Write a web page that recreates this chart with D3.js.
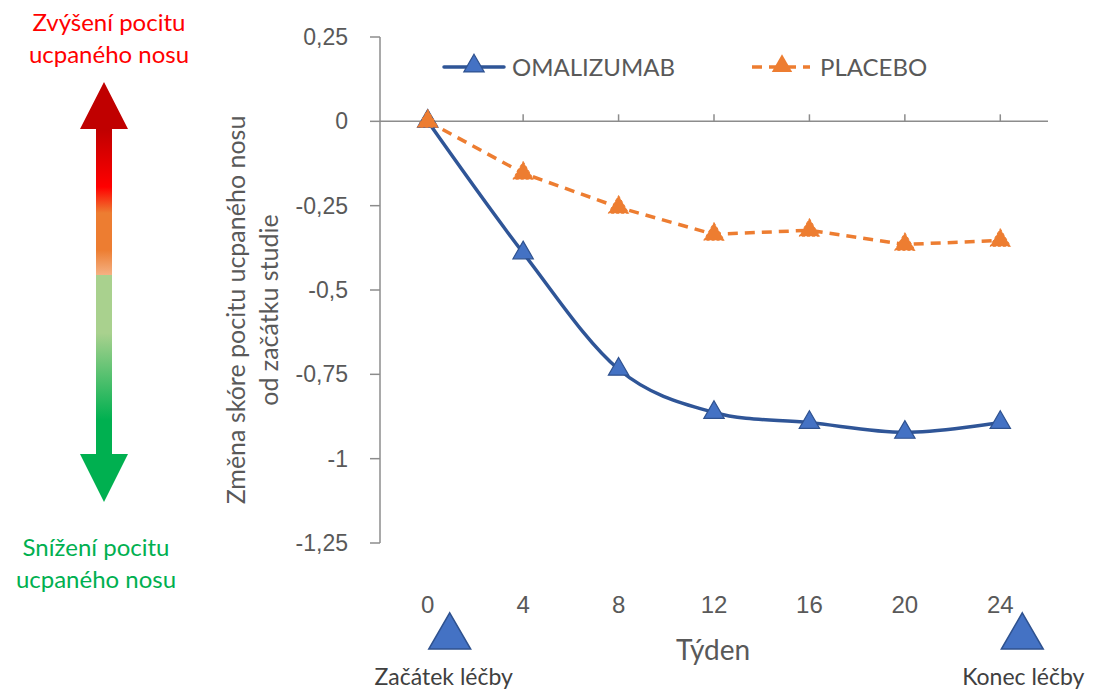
<!DOCTYPE html>
<html lang="cs">
<head>
  <meta charset="UTF-8">
  <script src="https://d3js.org/d3.v7.min.js"></script>
  <title>Změna skóre pocitu ucpaného nosu</title>
  <style>
    body { margin: 0; background: #fff; }
    svg { display: block; }
    .tick-y { font-family: "Liberation Sans", Arial, sans-serif; font-size: 23px; fill: #595959; }
    .tick-x { font-family: "Liberation Sans", Arial, sans-serif; font-size: 24px; fill: #595959; }
    .calib { font-family: Lato, "Noto Sans", sans-serif; }
  </style>
</head>
<body>
<svg id="chart" width="1094" height="689"></svg>
<script>
  const weeks = [0, 4, 8, 12, 16, 20, 24];
  const omalizumab = [0, -0.39, -0.735, -0.863, -0.893, -0.922, -0.893];
  const placebo = [0, -0.154, -0.255, -0.335, -0.323, -0.365, -0.353];
  const yTicks = [0.25, 0, -0.25, -0.5, -0.75, -1, -1.25];

  const svg = d3.select("#chart");
  const plotL = 380, plotR = 1048, plotT = 37, plotB = 543;

  const x = d3.scaleBand().domain(weeks).range([plotL, plotR]);
  const y = d3.scaleLinear().domain([-1.25, 0.25]).range([plotB, plotT]);
  const cx = d => x(d) + x.bandwidth() / 2;
  const axisCol = "#8c8c8c";

  // y axis
  svg.append("line").attr("x1", plotL).attr("x2", plotL).attr("y1", y(0.25)).attr("y2", y(-1.25))
    .attr("stroke", axisCol).attr("stroke-width", 1.5);
  yTicks.forEach(t => {
    svg.append("line").attr("x1", plotL - 10).attr("x2", plotL).attr("y1", y(t)).attr("y2", y(t))
      .attr("stroke", axisCol).attr("stroke-width", 1.5);
    svg.append("text").attr("class", "tick-y").attr("x", 348).attr("y", y(t) + 8)
      .attr("text-anchor", "end").text(String(t).replace(".", ","));
  });

  // x axis at zero
  svg.append("line").attr("x1", plotL).attr("x2", plotR).attr("y1", y(0)).attr("y2", y(0))
    .attr("stroke", axisCol).attr("stroke-width", 1.5);
  weeks.forEach(w => {
    svg.append("line").attr("x1", cx(w)).attr("x2", cx(w)).attr("y1", y(0) - 7).attr("y2", y(0))
      .attr("stroke", axisCol).attr("stroke-width", 1.5);
    svg.append("text").attr("class", "tick-x").attr("x", cx(w)).attr("y", 613)
      .attr("text-anchor", "middle").text(w);
  });

  svg.append("text").attr("class", "calib").attr("x", 713).attr("y", 660)
    .attr("text-anchor", "middle").attr("font-size", 28).attr("fill", "#595959").text("Týden");

  // y title
  const yt = svg.append("text").attr("class", "calib").attr("font-size", 25).attr("fill", "#595959")
    .attr("text-anchor", "middle").attr("transform", "translate(0,310) rotate(-90)");
  yt.append("tspan").attr("x", 0).attr("y", 245).text("Změna skóre pocitu ucpaného nosu");
  yt.append("tspan").attr("x", 0).attr("y", 278).text("od začátku studie");

  const tri = d3.symbol().type(d3.symbolTriangle);

  // placebo
  svg.append("path").datum(placebo)
    .attr("d", d3.line().x((d, i) => cx(weeks[i])).y(d => y(d)))
    .attr("fill", "none").attr("stroke", "#ED7D31").attr("stroke-width", 3.5)
    .attr("stroke-dasharray", "10,7");
  svg.selectAll(".pm").data(placebo).join("path")
    .attr("transform", (d, i) => `translate(${cx(weeks[i])},${y(d)})`)
    .attr("d", tri.size(180)).attr("fill", "#ED7D31").attr("stroke", "#ED7D31").attr("stroke-width", 1)
    .attr("stroke-dasharray", "3,2");

  // omalizumab
  svg.append("path").datum(omalizumab)
    .attr("d", d3.line().x((d, i) => cx(weeks[i])).y(d => y(d)).curve(d3.curveCatmullRom.alpha(0)))
    .attr("fill", "none").attr("stroke", "#2F5597").attr("stroke-width", 3.5);
  svg.selectAll(".om").data(omalizumab).join("path")
    .attr("transform", (d, i) => `translate(${cx(weeks[i])},${y(d)})`)
    .attr("d", tri.size(180)).attr("fill", "#4472C4").attr("stroke", "#2F528F").attr("stroke-width", 1.2);
  // placebo marker at week 0 drawn on top
  svg.append("path").attr("transform", `translate(${cx(0)},${y(placebo[0])})`)
    .attr("d", tri.size(180)).attr("fill", "#ED7D31").attr("stroke", "#ED7D31").attr("stroke-dasharray", "3,2");

  // legend
  const lg = svg.append("g");
  lg.append("line").attr("x1", 444).attr("x2", 504).attr("y1", 67).attr("y2", 67)
    .attr("stroke", "#2F5597").attr("stroke-width", 3.5).attr("stroke-linecap", "round");
  lg.append("path").attr("transform", "translate(474,66)").attr("d", tri.size(180))
    .attr("fill", "#4472C4").attr("stroke", "#2F528F").attr("stroke-width", 1.2);
  lg.append("text").attr("class", "calib").attr("x", 512).attr("y", 76).attr("font-size", 24)
    .attr("fill", "#595959").text("OMALIZUMAB");
  lg.append("line").attr("x1", 752).attr("x2", 810).attr("y1", 67).attr("y2", 67)
    .attr("stroke", "#ED7D31").attr("stroke-width", 3.5).attr("stroke-dasharray", "10,7");
  lg.append("path").attr("transform", "translate(782,66)").attr("d", tri.size(180))
    .attr("fill", "#ED7D31");
  lg.append("text").attr("class", "calib").attr("x", 820).attr("y", 76).attr("font-size", 24)
    .attr("fill", "#595959").text("PLACEBO");

  // left arrow with gradient
  const defs = svg.append("defs");
  const gr = defs.append("linearGradient").attr("id", "arrowGrad")
    .attr("gradientUnits", "userSpaceOnUse").attr("x1", 0).attr("x2", 0).attr("y1", 82).attr("y2", 502);
  [[82, "#C00000"], [130, "#C00000"], [187, "#FF0000"], [213, "#ED7D31"], [250, "#ED7D31"],
   [275, "#F4B183"], [275.5, "#A9D18E"], [333, "#A9D18E"], [420, "#00B050"], [502, "#00B050"]]
    .forEach(([p, c]) => gr.append("stop").attr("offset", (p - 82) / 420).attr("stop-color", c));
  const ax = 104;
  const arrow = d3.path();
  arrow.moveTo(ax, 82); arrow.lineTo(ax + 24, 129); arrow.lineTo(ax + 8, 129); arrow.lineTo(ax + 8, 454);
  arrow.lineTo(ax + 24, 454); arrow.lineTo(ax, 502); arrow.lineTo(ax - 24, 454); arrow.lineTo(ax - 8, 454);
  arrow.lineTo(ax - 8, 129); arrow.lineTo(ax - 24, 129); arrow.closePath();
  svg.append("path").attr("d", arrow.toString()).attr("fill", "url(#arrowGrad)");

  const addLines = (lines, xx, yy, col) => lines.forEach((t, i) =>
    svg.append("text").attr("class", "calib").attr("x", xx).attr("y", yy + i * 32)
      .attr("text-anchor", "middle").attr("font-size", 24).attr("fill", col).text(t));
  addLines(["Zvýšení pocitu", "ucpaného nosu"], 109, 31, "#FF0000");
  addLines(["Snížení pocitu", "ucpaného nosu"], 96, 556, "#00B050");

  // treatment start / end markers
  const bigTri = d3.symbol().type(d3.symbolTriangle).size(760);
  [[0, "Začátek léčby", -6], [24, "Konec léčby", 1]].forEach(([w, label, dx]) => {
    const px = cx(w) + 22;
    svg.append("path").attr("transform", `translate(${px},${637})`).attr("d", bigTri())
      .attr("fill", "#4472C4").attr("stroke", "#2F528F").attr("stroke-width", 1.5);
    svg.append("text").attr("class", "calib").attr("x", px + dx).attr("y", 685)
      .attr("text-anchor", "middle").attr("font-size", 23).attr("fill", "#404040").text(label);
  });
</script>
</body>
</html>
